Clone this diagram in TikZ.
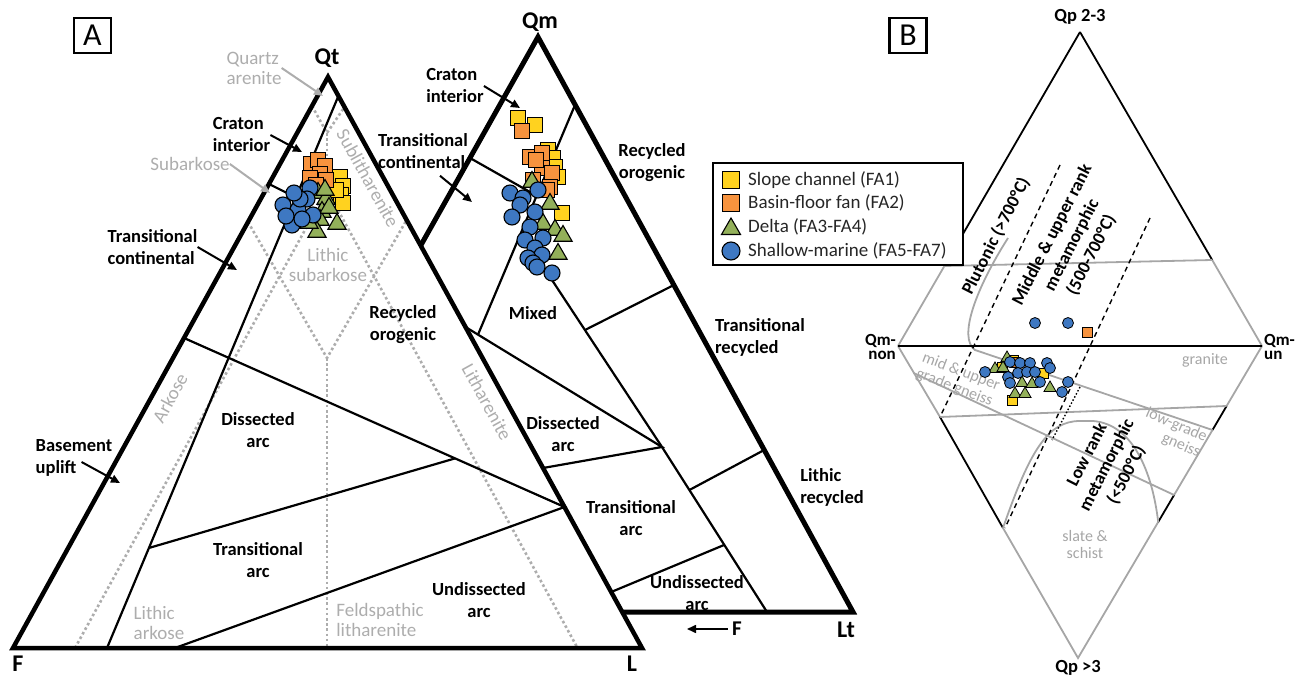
\documentclass[tikz,border=0pt]{standalone}
\usepackage{fontspec}
\setmainfont{Carlito}
\usetikzlibrary{arrows.meta,shapes.geometric,calc,positioning}

\definecolor{folkgrey}{HTML}{ADADAD}
\definecolor{zonegrey}{HTML}{A6A6A6}
\definecolor{slopeyel}{HTML}{FFD21F}
\definecolor{basinorg}{HTML}{F7933E}
\definecolor{deltagrn}{HTML}{93B05A}
\definecolor{shelfblu}{HTML}{3E78C2}

\begin{document}
\begin{tikzpicture}[x=1pt,y=-1pt,
  frame/.style={line width=4.5pt,line join=miter},
  field/.style={line width=2.2pt},
  folkline/.style={folkgrey,line width=2.6pt,dash pattern=on 2.6pt off 2.6pt},
  dline/.style={line width=1.8pt},
  gline/.style={zonegrey,line width=1.8pt},
  region/.style={font=\fontsize{18.5}{22}\selectfont\bfseries,align=center,inner sep=0pt},
  folk/.style={font=\fontsize{19}{20}\selectfont,text=folkgrey,align=center,inner sep=0pt},
  zone/.style={font=\fontsize{16}{17}\selectfont,text=zonegrey,align=center,inner sep=0pt},
  pole/.style={font=\fontsize{24}{24}\selectfont\bfseries,inner sep=0pt},
  corner/.style={font=\fontsize{17}{14}\selectfont\bfseries,inner sep=0pt},
  panel/.style={draw,line width=2.5pt,minimum width=37pt,minimum height=35pt,font=\fontsize{32}{32}\selectfont,inner sep=0pt},
  pointer/.style={-{Triangle[length=9pt,width=8pt]},line width=2pt},
  greypointer/.style={pointer,folkgrey},
  sq/.style={rectangle,draw=black,line width=1.1pt,minimum size=15pt,inner sep=0pt},
  slope/.style={sq,fill=slopeyel},
  basin/.style={sq,fill=basinorg},
  delta/.style={regular polygon,regular polygon sides=3,draw=black,line width=1.1pt,fill=deltagrn,minimum size=21pt,inner sep=0pt},
  shelf/.style={circle,draw=black,line width=1.1pt,fill=shelfblu,minimum size=16pt,inner sep=0pt},
  smallsq/.style={minimum size=10pt,line width=0.8pt},
  smalltri/.style={minimum size=14pt,line width=0.8pt},
  smallcirc/.style={minimum size=11pt,line width=0.8pt},
  legendtxt/.style={font=\fontsize{19}{20}\selectfont,text=black!85,inner sep=0pt,anchor=west}
]
\useasboundingbox (0,0) rectangle (1299,679);

% ---- QmFLt (behind QtFL)
\coordinate (Qm) at (538,37);
\coordinate (Lt) at (853,612);
\coordinate (mF) at (421,245);
\coordinate (mB) at (622.2,612);

\draw[field] (575,105) -- (478,334.6);
\draw[field] (465.5,327) -- (662,447) -- (543,468);
\draw[field] (470,158) -- (537,196);
\draw[field] (521,233) -- (662,447) -- (767,612);
\draw[field] (611.2,592) -- (724,545);
\draw[field] (689.4,490) -- (764.2,450);
\draw[field] (585,330) -- (673.9,285);
\draw[frame,line width=5pt] (mF) -- (Qm) -- (Lt) -- (mB);

% ---- QtFL
\coordinate (Qt) at (328,77);
\coordinate (F) at (13,648);
\coordinate (L) at (642,648);

\draw[folkline] (312,106) -- (327,133) -- (344.5,107);
\draw[folkline] (327,133) -- (327,190);
\draw[folkline] (75,648) -- (327,190) -- (577,647);
\draw[folkline] (248,222) -- (327,358) -- (406.6,220);
\draw[folkline] (327,358) -- (327,648);

\draw[field] (338.4,96) -- (107,648);
\draw[field] (269,184) -- (294,196.5);
\draw[field] (184,338) -- (564.5,507) -- (175,648);
\draw[field] (148.8,548) -- (455,458.4);
\draw[frame] (F) -- (Qt) -- (L) -- cycle;

\node[panel] (panelA) at (92.5,35.5) {A};
\node[pole] (qtlbl) at (327,58) {Qt};
\node[pole] (flbl) at (18,664) {F};
\node[pole] (llbl) at (632,664) {L};
\node[pole] (qmlbl) at (540,22) {Qm};
\node[pole] (ltlbl) at (846,630) {Lt};
\node[pole,font=\fontsize{21}{21}\selectfont\bfseries] (fmid) at (737,629) {F};
\coordinate (ftip) at (687,629);
\draw[pointer,line width=1.6pt] ($(fmid.west)+(-4,0)$) -- (ftip);

% Folk names
\node[folk,align=left] (qa) at (254,68) {Quartz\\arenite};
\node[folk] (sa) at (190,164) {Subarkose};
\node[folk,rotate=-61] (sl) at (368,178) {Sublitharenite};
\node[folk] (ls) at (328,265) {Lithic\\subarkose};
\node[folk,rotate=61] (ak) at (170,398) {Arkose};
\node[folk,rotate=-61] (lh) at (487,402) {Litharenite};
\node[folk,align=left] (la) at (159,623) {Lithic\\arkose};
\node[folk,align=left] (fl) at (380,620) {Feldspathic\\litharenite};
\coordinate (qatip) at (323,96);
\coordinate (satip) at (270,193);
\draw[greypointer] (qa.east) -- (qatip);
\draw[greypointer] (sa.east) -- (satip);

% Dickinson fields, QtFL
\node[region,align=left] (ciA) at (241.5,135) {Craton\\interior};
\node[region,align=left] (tcA) at (152.5,247) {Transitional\\continental};
\node[region,align=left] (bu) at (74,458) {Basement\\uplift};
\node[region] (roA) at (403,325) {Recycled\\orogenic};
\node[region] (daA) at (258,430) {Dissected\\arc};
\node[region] (taA) at (258,560) {Transitional\\arc};
\node[region] (uaA) at (479,600) {Undissected\\arc};
\coordinate (ciAtip) at (302,152);
\coordinate (tcAtip) at (237,270);
\coordinate (butip) at (120,483);
\draw[pointer] (ciA.east) -- (ciAtip);
\draw[pointer] (tcA.east) -- (tcAtip);
\draw[pointer] ($(bu.east)+(-31,4)$) -- (butip);

% Dickinson fields, QmFLt
\node[region,align=left] (ciM) at (455,86) {Craton\\interior};
\node[region,align=left] (tcM) at (423,151) {Transitional\\continental};
\node[region] (roM) at (652,163) {Recycled\\orogenic};
\node[region] (mx) at (533,313) {Mixed};
\node[region,align=left] (trM) at (760,337) {Transitional\\recycled};
\node[region,align=left] (lrM) at (832,487) {Lithic\\recycled};
\node[region] (daM) at (563,434) {Dissected\\arc};
\node[region] (taM) at (631,518) {Transitional\\arc};
\node[region] (uaM) at (697,593) {Undissected\\arc};
\coordinate (ciMtip) at (520,108);
\coordinate (tcMtip) at (472,202);
\draw[pointer] (ciM.east) -- (ciMtip);
\draw[pointer] ($(tcM.south)+(17,7)$) -- (tcMtip);

% samples, QtFL
\foreach \p [count=\i] in {(340,177),(343,186),(341,195),(343,203),(336,190)}
  \node[slope] (yA\i) at \p {};
\foreach \p [count=\i] in {(311,164),(318,160),(325,166),(320,174),(310,178),(326,180),(316,185)}
  \node[basin] (oA\i) at \p {};
\foreach \p [count=\i] in {(318,193),(326,199),(322,212),(320,220),(337,224),(317,232),(309,223),(329,208),(325,190)}
  \node[delta] (gA\i) at \p {};
\foreach \p [count=\i] in {(310,188),(307,199),(283,205),(298,210),(313,215),(292,225),(302,219),(286,216),(300,199),(294,193)}
  \node[shelf] (bA\i) at \p {};

% samples, QmFLt
\foreach \p [count=\i] in {(518,118),(535,125),(548,150),(553,158),(555,167),(558,177),(562,213)}
  \node[slope] (yM\i) at \p {};
\foreach \p [count=\i] in {(522,131),(530,157),(542,153),(542,168),(552,173),(533,180),(550,187),(547,190),(536,160)}
  \node[basin] (oM\i) at \p {};
\foreach \p [count=\i] in {(532,182),(550,204),(543,224),(555,230),(563,236),(558,254)}
  \node[delta] (gM\i) at \p {};
\foreach \p [count=\i] in {(510,193),(523,198),(538,190),(520,205),(512,217),(535,212),(530,227),(525,240),(543,238),(535,248),(542,255),(528,258),(533,263),(537,267),(552,273)}
  \node[shelf] (bM\i) at \p {};

% ---- Qp diamond
\coordinate (qp23) at (1080,32);
\coordinate (qmnon) at (898,346);
\coordinate (qmun) at (1262,346);
\coordinate (qp3) at (1078,658);

\draw[dline] (qp23) -- (944.4,266);
\draw[gline] (944.4,266) -- (qmnon);
\draw[dline] (qp23) -- (1212.2,260);
\draw[gline] (1212.2,260) -- (qmun);
\draw[gline] (944.4,266) -- (1212.2,260);
\draw[gline] (qmnon) -- (940,417);
\draw[dline] (940,417) -- (1003,528);
\draw[gline] (1003,528) -- (qp3) -- (1158.2,522);
\draw[dline] (1158.2,522) -- (1174.1,495);
\draw[gline] (1174.1,495) -- (1212.5,430);
\draw[dline] (1212.5,430) -- (1226.6,406);
\draw[gline] (1226.6,406) -- (qmun);

\draw[gline] (1008,238) .. controls (975,290) and (958,338) .. (975,350) -- (1212.5,430);
\draw[gline] (940,417) -- (1226.6,406);
\draw[gline] (913.6,373) -- (1174.1,495);
\draw[gline] (1003,528) .. controls (1030,450) and (1048,421) .. (1080,421) -- (1093,421)
  .. controls (1132,424) and (1152,470) .. (1158.2,522);
\draw[dline,line width=2.2pt] (qmnon) -- (qmun);

\draw[line width=1.4pt,dash pattern=on 5pt off 4pt] (1060,165) -- (940,417);
\draw[line width=1.4pt,dash pattern=on 5pt off 4pt] (1150,218) -- (1005,528);
\draw[line width=1.4pt,dash pattern=on 1.5pt off 2pt] (1080,387) -- (1052,440);

\node[panel] (panelB) at (908,35.5) {B};
\node[corner,font=\fontsize{18.5}{18}\selectfont\bfseries] (qp23lbl) at (1080,17) {Qp 2-3};
\node[corner,font=\fontsize{18.5}{18}\selectfont\bfseries] (qp3lbl) at (1078,668) {Qp >3};
\node[corner,align=right,anchor=east] (qmnonlbl) at (896,347) {Qm-\\non};
\node[corner,align=left,anchor=west] (qmunlbl) at (1264,347) {Qm-\\un};

\node[region,font=\fontsize{18}{22}\selectfont\bfseries,rotate=63] (pluto) at (996,236) {Plutonic (>700°C)};
\node[region,font=\fontsize{18}{22}\selectfont\bfseries,rotate=63] (midup) at (1072,245) {Middle \& upper rank\\metamorphic\\(500-700°C)};
\node[region,font=\fontsize{18}{22}\selectfont\bfseries,rotate=63] (lowrk) at (1107,465) {Low rank\\metamorphic\\(<500°C)};

\node[zone,align=left,rotate=-21] (mug) at (958,380) {mid \& upper\\grade gneiss};
\node[zone] (gran) at (1205,360) {granite};
\node[zone,align=right,rotate=-23] (lgg) at (1173,433) {low-grade\\gneiss};
\node[zone] (slsc) at (1085,545) {slate \&\\schist};

% samples, Qp diamond
\foreach \p [count=\i] in {(1013,360),(1012,400),(1043,373),(1002,367)}
  \node[slope,smallsq] (yD\i) at \p {};
\foreach \p [count=\i] in {(1087,332),(1015,362)}
  \node[basin,smallsq] (oD\i) at \p {};
\foreach \p [count=\i] in {(1007,358),(995,369),(1022,383),(1032,384),(1050,388),(1015,394),(1025,394),(1003,368)}
  \node[delta,smalltri] (gD\i) at \p {};
\foreach \p [count=\i] in {(1035,323),(1068,323),(985,372),(1010,362),(1020,363),(1030,363),(1047,363),(1050,368),(1008,377),(1010,383),(1018,373),(1027,372),(1035,372),(1040,382),(1062,392),(1068,382)}
  \node[shelf,smallcirc] (bD\i) at \p {};

% ---- legend
\node[draw,line width=2.5pt,fill=white,minimum width=250pt,minimum height=102pt,inner sep=0pt] (legend) at (838,214) {};
\node[slope,minimum size=17pt] (k1) at (731,180) {};
\node[basin,minimum size=17pt] (k2) at (731,203) {};
\node[delta,minimum size=22pt] (k3) at (731,229) {};
\node[shelf,minimum size=18pt] (k4) at (731,251) {};
\node[legendtxt] (t1) at (748,180) {Slope channel (FA1)};
\node[legendtxt] (t2) at (748,203) {Basin-floor fan (FA2)};
\node[legendtxt] (t3) at (748,227) {Delta (FA3-FA4)};
\node[legendtxt] (t4) at (748,251) {Shallow-marine (FA5-FA7)};
\end{tikzpicture}
\end{document}
